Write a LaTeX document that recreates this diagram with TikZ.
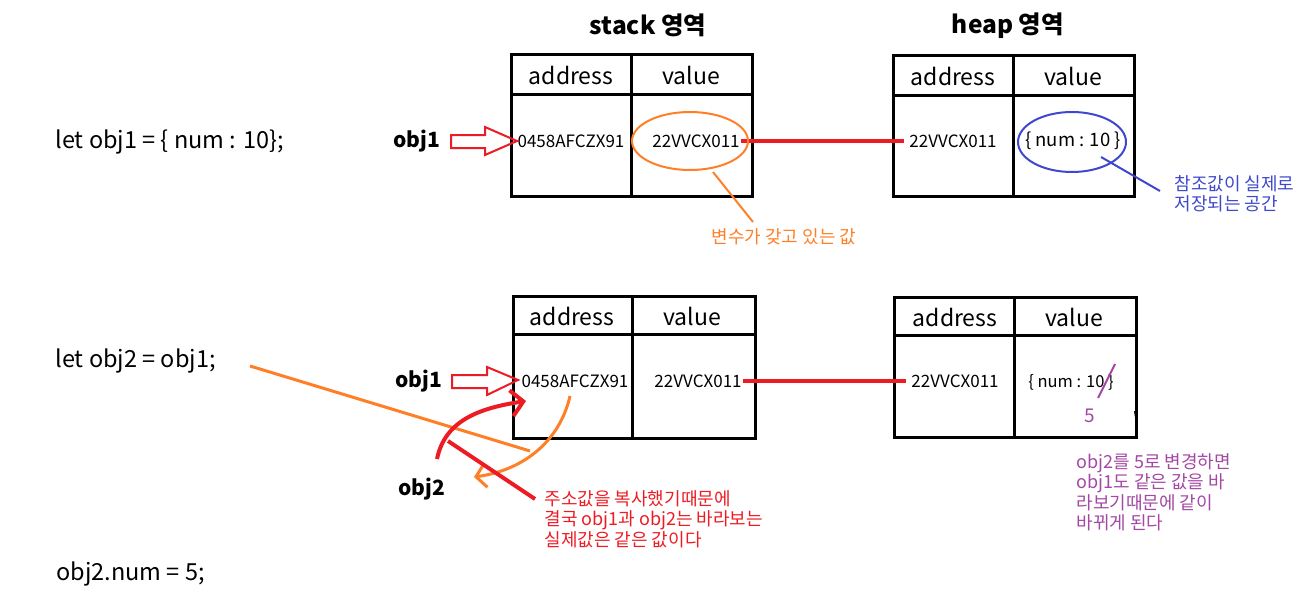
\documentclass[tikz,border=0pt]{standalone}
\usepackage{fontspec}
\setmainfont{Noto Sans CJK KR}
\usetikzlibrary{arrows.meta}
\definecolor{pred}{RGB}{237,28,36}
\definecolor{porange}{RGB}{255,127,39}
\definecolor{pblue}{RGB}{63,72,204}
\definecolor{ppurple}{RGB}{163,73,164}

\begin{document}
\begin{tikzpicture}[x=1pt,y=-1pt,
    box/.style={line width=3pt},
    title/.style={font=\fontsize{24.5}{28}\selectfont\bfseries},
    head/.style={font=\fontsize{23}{26}\selectfont},
    cell/.style={font=\fontsize{17}{20}\selectfont, inner sep=1pt},
    code/.style={font=\fontsize{23.5}{27}\selectfont, anchor=west},
    lbl/.style={font=\fontsize{21}{24}\selectfont\bfseries},
    note/.style={font=\fontsize{18}{20.5}\selectfont, align=left, anchor=north west},
    link/.style={pred, line width=4pt},
    hollow/.style={pred, line width=2pt, line join=miter}]
        \useasboundingbox (0,0) rectangle (1301,610);

        % Code lines on the left
        \node[code] (c1) at (52,142) {let obj1 = \{ num : 10\};};
        \node[code] (c2) at (52,361) {let obj2 = obj1;};
        \node[code] (c3) at (53,574) {obj2.num = 5;};

        % Area titles
        \node[title] (ts) at (648,25) {stack 영역};
        \node[title] (th) at (1008,26) {heap 영역};

        % Stack table (top)
        \draw[box] (511,55) rectangle (752,196);
        \draw[box] (511,94) -- (752,94);
        \draw[box] (631,55) -- (631,196);
        \node[head] at (571,75) {address};
        \node[head] at (691,75) {value};
        \node[cell] (sa1) at (571,141) {0458AFCZX91};
        \node[cell] (sv1) at (696,141) {22VVCX011};

        % Heap table (top)
        \draw[box] (893,56) rectangle (1134,196);
        \draw[box] (893,95) -- (1134,95);
        \draw[box] (1013,56) -- (1013,196);
        \node[head] at (953,76) {address};
        \node[head] at (1073,76) {value};
        \node[cell] (ha1) at (953,141) {22VVCX011};
        \node[cell, font=\fontsize{18.5}{20}\selectfont] (hv1) at (1073,141) {\{ num : 10 \}};

        % Stack table (bottom)
        \draw[box] (513,296) rectangle (755,438);
        \draw[box] (513,334) -- (755,334);
        \draw[box] (632,296) -- (632,438);
        \node[head] at (572,316) {address};
        \node[head] at (692,316) {value};
        \node[cell] (sa2) at (575,381) {0458AFCZX91};
        \node[cell] (sv2) at (698,381) {22VVCX011};

        % Heap table (bottom)
        \draw[box] (894,297) rectangle (1136,437);
        \draw[box] (894,335) -- (1136,335);
        \draw[box] (1014,297) -- (1014,437);
        \node[head] at (955,317) {address};
        \node[head] at (1074,317) {value};
        \node[cell] (ha2) at (955,381) {22VVCX011};
        \node[cell, font=\fontsize{16.5}{20}\selectfont] (hv2) at (1071,382) {\{ num : 10 \}};

        % References stack -> heap
        \draw[link] (sv1.east) -- ([xshift=-4pt]ha1.west);
        \draw[link] (sv2.east) -- ([xshift=-4pt]ha2.west);

        % obj1 labels with hollow arrows
        \node[lbl] (o1) at (417,141) {obj1};
        \draw[hollow] (451,135) -- (485,135) -- (485,127) -- (517,141)
            -- (485,155) -- (485,148) -- (451,148) -- cycle;
        \node[lbl] (o1b) at (419,381) {obj1};
        \draw[hollow] (452,375) -- (487,375) -- (487,367) -- (518,380)
            -- (487,395) -- (487,388) -- (452,388) -- cycle;
        \node[lbl] (o2) at (422,489) {obj2};

        % Orange note on the stack value
        \draw[porange, line width=2pt] (690,141) ellipse [x radius=58, y radius=29];
        \coordinate (on) at (753,222);
        \draw[porange, line width=2pt] (713,172) -- (on);
        \node[porange, font=\fontsize{18}{20}\selectfont] (ot) at (784,237) {변수가 갖고 있는 값};

        % Blue note on the heap value
        \draw[pblue, line width=2pt] (1072,142) ellipse [x radius=54, y radius=30];
        \coordinate (bn) at (1160,191);
        \draw[pblue, line width=2pt] (1101,157) -- (bn);
        \node[pblue, note] (bt) at (1171,172) {참조값이 실제로\\저장되는 공간};

        % Copy of the address
        \draw[porange, line width=3pt] (250,366) -- (530,451);
        \draw[porange, line width=3pt, -{Straight Barb[length=10pt,width=24pt,line width=3pt]}]
            (570,396) .. controls (560,440) and (525,470) .. (474,477);
        \draw[pred, line width=4pt, -{Straight Barb[length=12pt,width=26pt,line width=4pt]}]
            (437,459) .. controls (445,420) and (480,408) .. (526,401);
        \draw[pred, line width=4pt] (535,499) -- (448,441);
        \node[pred, note] (rt) at (541,487) {주소값을 복사했기때문에\\결국 obj1과 obj2는 바라보는\\실제값은 같은 값이다};

        % Changed value
        \draw[ppurple, line width=2pt] (1098,398) -- (1115,364);
        \node[ppurple, font=\fontsize{19}{20}\selectfont] (five) at (1090,416) {5};
        \draw[line width=2pt] (1135,411) -- (1137,424);
        \node[ppurple, note] (pt) at (1073,450) {obj2를 5로 변경하면\\obj1도 같은 값을 바\\라보기때문에 같이\\바뀌게 된다};
\end{tikzpicture}
\end{document}
